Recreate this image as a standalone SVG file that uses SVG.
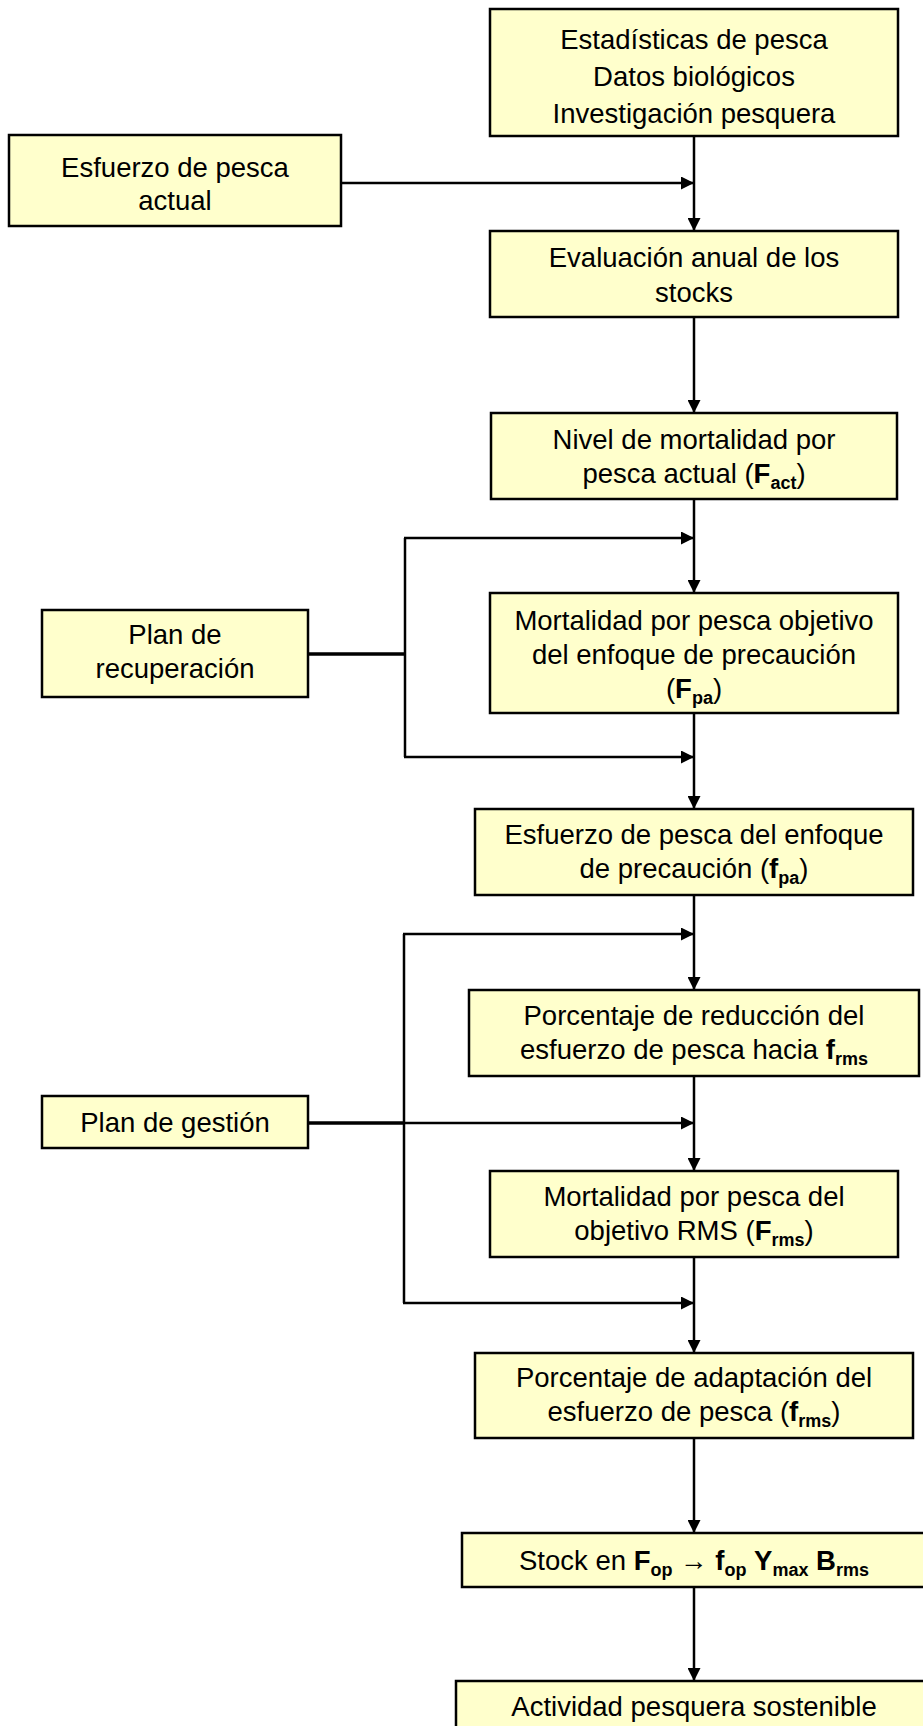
<svg xmlns="http://www.w3.org/2000/svg" width="923" height="1726" viewBox="0 0 923 1726">
<style>
.box{fill:#ffffcc;stroke:#000;stroke-width:2.5}
.t{font-family:"Liberation Sans",Arial,sans-serif;font-size:27.5px;fill:#000;text-anchor:middle}
.b{font-weight:bold}
.s{font-size:18px;font-weight:bold}
.ln{stroke:#000;stroke-width:2.5;fill:none}
.lt{stroke:#000;stroke-width:3.5;fill:none}
</style>
<defs>
<marker id="ah" markerUnits="userSpaceOnUse" markerWidth="13" markerHeight="13" refX="13" refY="6.5" orient="auto">
<path d="M0,0 L13,6.5 L0,13 z" fill="#000"/>
</marker>
</defs>
<rect width="923" height="1726" fill="#fff"/>
<g id="connectors">
<line class="ln" x1="341" y1="183" x2="694" y2="183" marker-end="url(#ah)"/>
<line class="ln" x1="694" y1="136" x2="694" y2="231" marker-end="url(#ah)"/>
<line class="ln" x1="694" y1="317" x2="694" y2="413" marker-end="url(#ah)"/>
<line class="ln" x1="694" y1="499" x2="694" y2="593" marker-end="url(#ah)"/>
<line class="lt" x1="308" y1="654" x2="405" y2="654"/>
<line class="ln" x1="405" y1="538" x2="405" y2="757"/>
<line class="ln" x1="404" y1="538" x2="694" y2="538" marker-end="url(#ah)"/>
<line class="ln" x1="404" y1="757" x2="694" y2="757" marker-end="url(#ah)"/>
<line class="ln" x1="694" y1="713" x2="694" y2="809" marker-end="url(#ah)"/>
<line class="ln" x1="694" y1="895" x2="694" y2="990" marker-end="url(#ah)"/>
<line class="ln" x1="404" y1="934" x2="404" y2="1303"/>
<line class="ln" x1="403" y1="934" x2="694" y2="934" marker-end="url(#ah)"/>
<line class="ln" x1="403" y1="1303" x2="694" y2="1303" marker-end="url(#ah)"/>
<line class="lt" x1="308" y1="1123" x2="404" y2="1123"/>
<line class="ln" x1="404" y1="1123" x2="694" y2="1123" marker-end="url(#ah)"/>
<line class="ln" x1="694" y1="1076" x2="694" y2="1171" marker-end="url(#ah)"/>
<line class="ln" x1="694" y1="1257" x2="694" y2="1353" marker-end="url(#ah)"/>
<line class="ln" x1="694" y1="1438" x2="694" y2="1533" marker-end="url(#ah)"/>
<line class="ln" x1="694" y1="1587" x2="694" y2="1681" marker-end="url(#ah)"/>
</g>
<g id="n-datos">
<rect class="box" x="490" y="9" width="408" height="127"/>
<text class="t" x="694" y="48.5">Estadísticas de pesca</text>
<text class="t" x="694" y="85.5">Datos biológicos</text>
<text class="t" x="694" y="122.5">Investigación pesquera</text>
</g>
<g id="n-esfuerzo-actual">
<rect class="box" x="9" y="135" width="332" height="91"/>
<text class="t" x="175" y="177">Esfuerzo de pesca</text>
<text class="t" x="175" y="210">actual</text>
</g>
<g id="n-evaluacion">
<rect class="box" x="490" y="231" width="408" height="86"/>
<text class="t" x="694" y="267">Evaluación anual de los</text>
<text class="t" x="694" y="302">stocks</text>
</g>
<g id="n-nivel">
<rect class="box" x="491" y="413" width="406" height="86"/>
<text class="t" x="694" y="449">Nivel de mortalidad por</text>
<text class="t" x="694" y="483">pesca actual (<tspan class="b">F</tspan><tspan class="s" dy="6">act</tspan><tspan dy="-6">)</tspan></text>
</g>
<g id="n-plan-recuperacion">
<rect class="box" x="42" y="610" width="266" height="87"/>
<text class="t" x="175" y="644">Plan de</text>
<text class="t" x="175" y="678">recuperación</text>
</g>
<g id="n-mortalidad-objetivo">
<rect class="box" x="490" y="593" width="408" height="120"/>
<text class="t" x="694" y="630">Mortalidad por pesca objetivo</text>
<text class="t" x="694" y="664">del enfoque de precaución</text>
<text class="t" x="694" y="698">(<tspan class="b">F</tspan><tspan class="s" dy="6">pa</tspan><tspan dy="-6">)</tspan></text>
</g>
<g id="n-esfuerzo-pa">
<rect class="box" x="475" y="809" width="438" height="86"/>
<text class="t" x="694" y="844">Esfuerzo de pesca del enfoque</text>
<text class="t" x="694" y="878">de precaución (<tspan class="b">f</tspan><tspan class="s" dy="6">pa</tspan><tspan dy="-6">)</tspan></text>
</g>
<g id="n-reduccion">
<rect class="box" x="469" y="990" width="450" height="86"/>
<text class="t" x="694" y="1025">Porcentaje de reducción del</text>
<text class="t" x="694" y="1059">esfuerzo de pesca hacia <tspan class="b">f</tspan><tspan class="s" dy="6">rms</tspan></text>
</g>
<g id="n-plan-gestion">
<rect class="box" x="42" y="1096" width="266" height="52"/>
<text class="t" x="175" y="1132">Plan de gestión</text>
</g>
<g id="n-mortalidad-rms">
<rect class="box" x="490" y="1171" width="408" height="86"/>
<text class="t" x="694" y="1206">Mortalidad por pesca del</text>
<text class="t" x="694" y="1240">objetivo RMS (<tspan class="b">F</tspan><tspan class="s" dy="6">rms</tspan><tspan dy="-6">)</tspan></text>
</g>
<g id="n-adaptacion">
<rect class="box" x="475" y="1353" width="438" height="85"/>
<text class="t" x="694" y="1387">Porcentaje de adaptación del</text>
<text class="t" x="694" y="1421">esfuerzo de pesca (<tspan class="b">f</tspan><tspan class="s" dy="6">rms</tspan><tspan dy="-6">)</tspan></text>
</g>
<g id="n-stock">
<rect class="box" x="462" y="1533" width="464" height="54"/>
<text class="t" x="694" y="1570">Stock en <tspan class="b">F</tspan><tspan class="s" dy="6">op</tspan><tspan dy="-6"> → </tspan><tspan class="b">f</tspan><tspan class="s" dy="6">op</tspan><tspan dy="-6"> </tspan><tspan class="b">Y</tspan><tspan class="s" dy="6">max</tspan><tspan dy="-6"> </tspan><tspan class="b">B</tspan><tspan class="s" dy="6">rms</tspan></text>
</g>
<g id="n-actividad">
<rect class="box" x="456" y="1681" width="476" height="60"/>
<text class="t" x="694" y="1716">Actividad pesquera sostenible</text>
</g>
</svg>
